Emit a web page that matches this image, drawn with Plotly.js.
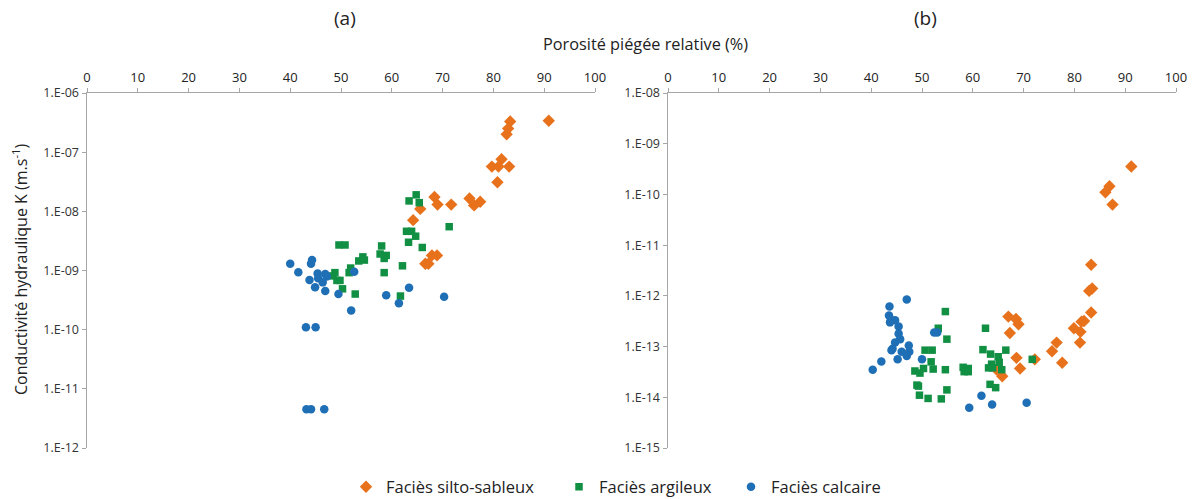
<!DOCTYPE html>
<html>
<head>
<meta charset="utf-8">
<script src="https://cdn.plot.ly/plotly-3.0.1.min.js"></script>
<style>html,body{margin:0;padding:0;background:#fff;}#chart{width:1199px;height:499px;}</style>
</head>
<body>
<div id="chart"></div>
<script>
// Panel (a)
const aSiltX = [90.9, 83.3, 82.9, 82.6, 81.6, 79.7, 81.0, 83.1, 80.8, 68.4, 75.3, 77.4, 76.2, 69.0, 71.7, 65.6, 64.2, 67.9, 68.9, 66.6, 67.2];
const aSiltK = [3.4e-7, 3.3e-7, 2.5e-7, 2.0e-7, 7.6e-8, 5.7e-8, 5.7e-8, 5.7e-8, 3.1e-8, 1.75e-8, 1.65e-8, 1.45e-8, 1.26e-8, 1.3e-8, 1.3e-8, 1.1e-8, 7.1e-9, 1.8e-9, 1.8e-9, 1.3e-9, 1.3e-9];
const aArgX = [64.8, 63.4, 65.4, 71.3, 62.9, 63.9, 64.7, 63.3, 66.0, 49.6, 50.8, 58.0, 57.7, 58.9, 58.5, 54.3, 54.6, 53.5, 62.1, 58.5, 51.9, 51.6, 48.8, 48.4, 49.2, 49.8, 50.3, 52.8, 61.7];
const aArgK = [1.9e-8, 1.5e-8, 1.4e-8, 5.5e-9, 4.6e-9, 4.6e-9, 3.8e-9, 3.0e-9, 2.45e-9, 2.7e-9, 2.7e-9, 2.6e-9, 1.9e-9, 1.8e-9, 1.6e-9, 1.7e-9, 1.5e-9, 1.45e-9, 1.2e-9, 9.2e-10, 1.1e-9, 9.2e-10, 9.2e-10, 8.1e-10, 6.8e-10, 6.8e-10, 4.9e-10, 4.0e-10, 3.7e-10];
const aCalcX = [40.0, 41.6, 44.3, 44.1, 43.8, 45.4, 46.9, 45.5, 47.2, 46.4, 44.9, 46.9, 52.6, 49.5, 58.9, 63.4, 70.3, 61.4, 52.0, 43.1, 45.0, 43.2, 44.1, 46.7];
const aCalcK = [1.3e-9, 9.3e-10, 1.5e-9, 1.3e-9, 6.9e-10, 8.9e-10, 8.7e-10, 7.4e-10, 7.9e-10, 6.3e-10, 5.2e-10, 4.5e-10, 9.5e-10, 4.0e-10, 3.8e-10, 5.1e-10, 3.6e-10, 2.8e-10, 2.1e-10, 1.1e-10, 1.1e-10, 4.5e-12, 4.5e-12, 4.5e-12];

// Panel (b)
const bSiltX = [91.2, 86.9, 86.1, 87.5, 83.3, 83.5, 82.9, 83.3, 81.4, 81.9, 79.9, 81.2, 81.1, 76.5, 75.6, 77.6, 67.0, 68.5, 69.0, 67.3, 68.6, 69.3, 72.2, 64.7, 65.8];
const bSiltK = [3.55e-10, 1.45e-10, 1.1e-10, 6.3e-11, 4.1e-12, 1.4e-12, 1.25e-12, 4.7e-13, 3.1e-13, 3.2e-13, 2.3e-13, 1.95e-13, 1.2e-13, 1.2e-13, 8.1e-14, 4.8e-14, 3.9e-13, 3.5e-13, 2.75e-13, 1.85e-13, 6.0e-14, 3.7e-14, 5.6e-14, 3.5e-14, 2.6e-14];
const bArgX = [54.6, 53.2, 54.9, 50.6, 52.0, 51.8, 48.6, 49.6, 50.3, 52.2, 54.6, 49.0, 49.3, 49.5, 51.2, 53.8, 54.9, 58.1, 59.1, 58.3, 59.1, 62.5, 62.0, 63.5, 65.0, 66.5, 65.2, 63.7, 63.1, 63.9, 65.7, 63.4, 64.5, 71.7];
const bArgK = [4.9e-13, 2.3e-13, 1.4e-13, 8.5e-14, 8.5e-14, 5.0e-14, 3.3e-14, 3.0e-14, 3.7e-14, 3.6e-14, 3.5e-14, 1.74e-14, 1.66e-14, 1.1e-14, 9.5e-15, 9.3e-15, 1.4e-14, 3.9e-14, 3.7e-14, 3.2e-14, 3.2e-14, 2.3e-13, 8.7e-14, 7.1e-14, 6.3e-14, 8.5e-14, 4.9e-14, 4.5e-14, 3.8e-14, 3.8e-14, 3.5e-14, 1.8e-14, 1.55e-14, 5.6e-14];
const bCalcX = [47.0, 43.6, 43.5, 44.0, 44.7, 43.7, 45.4, 45.4, 45.7, 44.7, 44.2, 44.0, 47.4, 46.0, 47.5, 47.0, 45.2, 52.4, 53.0, 50.0, 42.0, 40.3, 61.7, 63.8, 59.3, 70.6];
const bCalcK = [8.5e-13, 6.2e-13, 4.1e-13, 3.3e-13, 3.3e-13, 3.0e-13, 2.5e-13, 1.8e-13, 1.4e-13, 1.2e-13, 9.1e-14, 8.5e-14, 1.05e-13, 7.9e-14, 7.9e-14, 6.5e-14, 5.6e-14, 1.9e-13, 1.9e-13, 5.6e-14, 5.1e-14, 3.5e-14, 1.07e-14, 7.2e-15, 6.2e-15, 7.8e-15];

const seriesNames = ["Faciès silto-sableux", "Faciès argileux", "Faciès calcaire"];
const xTicks = [0, 10, 20, 30, 40, 50, 60, 70, 80, 90, 100];
const yTicksA = [1e-12, 1e-11, 1e-10, 1e-9, 1e-8, 1e-7, 1e-6];
const yTextA = ["1.E-12", "1.E-11", "1.E-10", "1.E-09", "1.E-08", "1.E-07", "1.E-06"];
const yTicksB = [1e-15, 1e-14, 1e-13, 1e-12, 1e-11, 1e-10, 1e-9, 1e-8];
const yTextB = ["1.E-15", "1.E-14", "1.E-13", "1.E-12", "1.E-11", "1.E-10", "1.E-09", "1.E-08"];

const colors = ["#E8711C", "#119043", "#1F6FB6"];
const symbols = ["diamond", "square", "circle"];
const sizes = [9.5, 7.5, 8.5];
const legendIds = ["legend", "legend2", "legend3"];

const panels = [
  {xs: [aSiltX, aArgX, aCalcX], ks: [aSiltK, aArgK, aCalcK], xa: "x", ya: "y", leg: true},
  {xs: [bSiltX, bArgX, bCalcX], ks: [bSiltK, bArgK, bCalcK], xa: "x2", ya: "y2", leg: false}
];
const traces = [];
panels.forEach(p => {
  for (let i = 0; i < 3; i++) {
    traces.push({
      type: "scatter", mode: "markers",
      x: p.xs[i], y: p.ks[i], xaxis: p.xa, yaxis: p.ya,
      name: seriesNames[i], legend: legendIds[i], showlegend: p.leg,
      marker: {color: colors[i], symbol: symbols[i], size: sizes[i], line: {width: 0}},
      hoverinfo: "x+y"
    });
  }
});

const axisGray = "#A6A6A6";
const xCommon = {
  range: [0, 100], side: "top", tickvals: xTicks, ticktext: xTicks.map(String),
  showline: true, linecolor: axisGray, linewidth: 1.5, ticks: "outside", ticklen: 4,
  tickcolor: axisGray, showgrid: false, zeroline: false,
  tickfont: {family: "Open Sans, sans-serif", size: 13, color: "#222"}
};
const yCommon = {
  type: "log", showline: true, linecolor: axisGray, linewidth: 1.5, ticks: "outside",
  ticklen: 4, tickcolor: axisGray, showgrid: false, zeroline: false,
  tickfont: {family: "Open Sans, sans-serif", size: 12.5, color: "#333"}
};

const L = 87, R = 23, T = 93, B = 51;
const W = 1199 - L - R, H = 499 - T - B;
const px = v => (v - L) / W;
const py = v => (499 - B - v) / H;

const legFont = {family: "Open Sans, sans-serif", size: 16.5, color: "#222"};
const mkLegend = (left) => ({orientation: "h", x: px(left), y: py(487), xanchor: "left", yanchor: "middle",
  font: legFont, itemwidth: 30, bgcolor: "rgba(0,0,0,0)", borderwidth: 0});

const layout = {
  width: 1199, height: 499,
  margin: {l: L, r: R, t: T, b: B, autoexpand: false},
  paper_bgcolor: "#fff", plot_bgcolor: "#fff",
  font: {family: "Open Sans, sans-serif", color: "#222"},
  xaxis: Object.assign({}, xCommon, {domain: [0, px(595)], anchor: "y"}),
  xaxis2: Object.assign({}, xCommon, {domain: [px(668), 1], anchor: "y2"}),
  yaxis: Object.assign({}, yCommon, {range: [-12, -6], tickvals: yTicksA, ticktext: yTextA, anchor: "x"}),
  yaxis2: Object.assign({}, yCommon, {range: [-15, -8], tickvals: yTicksB, ticktext: yTextB, anchor: "x2"}),
  showlegend: true,
  legend: mkLegend(346),
  legend2: mkLegend(559),
  legend3: mkLegend(731),
  annotations: [
    {text: "(a)", xref: "paper", yref: "paper", x: px(345), y: py(18), showarrow: false,
     xanchor: "center", yanchor: "middle", font: {size: 19, color: "#222"}},
    {text: "(b)", xref: "paper", yref: "paper", x: px(925), y: py(18), showarrow: false,
     xanchor: "center", yanchor: "middle", font: {size: 19, color: "#222"}},
    {text: "Porosité piégée relative (%)", xref: "paper", yref: "paper", x: px(645), y: py(44),
     showarrow: false, xanchor: "center", yanchor: "middle", font: {size: 16.3, color: "#222"}},
    {text: "Conductivité hydraulique K (m.s<sup>-1</sup>)", xref: "paper", yref: "paper",
     x: px(20), y: py(270), textangle: -90, showarrow: false, xanchor: "center", yanchor: "middle",
     font: {size: 16, color: "#222"}}
  ]
};

Plotly.newPlot("chart", traces, layout, {displayModeBar: false, staticPlot: true});
</script>
</body>
</html>
